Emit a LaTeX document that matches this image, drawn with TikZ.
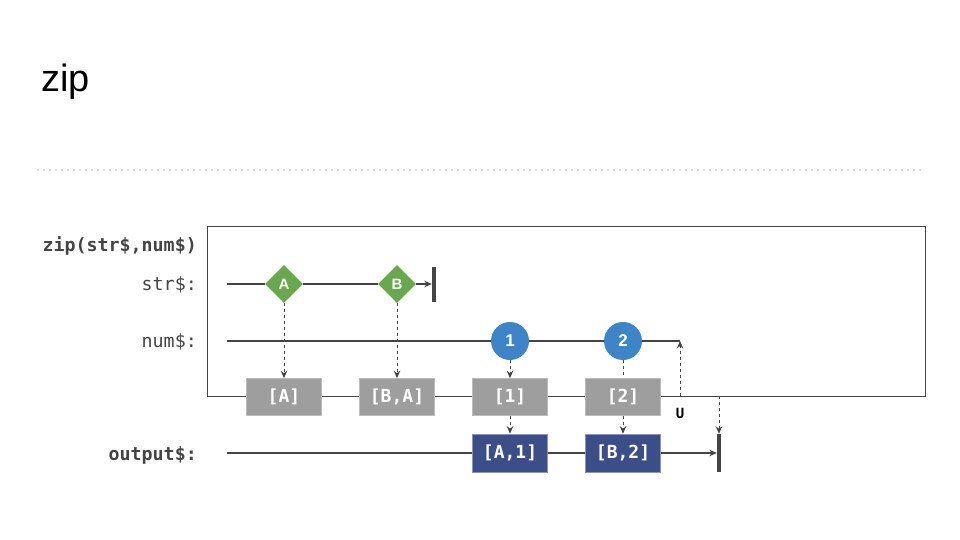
\documentclass[tikz,border=0pt]{standalone}
\usepackage{fontspec}
\setmainfont{Liberation Sans}
\setsansfont{Liberation Sans}
\setmonofont{DejaVu Sans Mono}
\usetikzlibrary{shapes.geometric,arrows.meta,backgrounds}
\definecolor{ink}{HTML}{444444}
\definecolor{grn}{HTML}{6AA84F}
\definecolor{blu}{HTML}{3D85C6}
\definecolor{gbox}{HTML}{9E9E9E}
\definecolor{dbox}{HTML}{3C4E88}
\definecolor{dotc}{HTML}{BBBBBB}
\tikzset{
  wire/.style={draw=ink, line width=1.1pt},
  arr/.style={-{Stealth[length=7.5pt,width=6.5pt]}},
  dsh/.style={draw=ink, line width=1pt, dash pattern=on 3pt off 3pt},
  dmd/.style={diamond, aspect=1, fill=grn, inner sep=0pt, minimum width=38pt, minimum height=38pt,
    text=white, font=\sffamily\bfseries\fontsize{15}{15}\selectfont},
  crc/.style={circle, fill=blu, inner sep=0pt, minimum size=38pt,
    text=white, font=\sffamily\bfseries\fontsize{17}{17}\selectfont},
  gbx/.style={rectangle, fill=gbox, draw=gbox!70!white, line width=0.6pt, minimum width=75pt, minimum height=37pt,
    inner sep=0pt, text=white, font=\ttfamily\bfseries\fontsize{18}{18}\selectfont},
  dbx/.style={rectangle, fill=dbox, draw=dbox!60!white, line width=0.6pt, minimum width=75pt, minimum height=38pt,
    inner sep=0pt, text=white, font=\ttfamily\bfseries\fontsize{18}{18}\selectfont},
  bar/.style={rectangle, fill=ink, inner sep=0pt, minimum width=4pt, minimum height=36pt},
  lbl/.style={anchor=east, text=ink, inner sep=0pt, font=\ttfamily\fontsize{18.3}{18.3}\selectfont},
  blbl/.style={anchor=east, text=ink, inner sep=0pt, font=\ttfamily\bfseries\fontsize{18.3}{18.3}\selectfont},
}
\begin{document}
\begin{tikzpicture}[x=1pt,y=-1pt]
\useasboundingbox (0,0) rectangle (960,540);
% title
\node[anchor=base west, inner sep=0pt, font=\fontsize{38}{38}\selectfont] (title) at (41,92) {zip};
% dotted separator
\coordinate (d0) at (38,170);
\coordinate (d1) at (920,170);
\draw[dotc, line width=1.6pt, line cap=round, dash pattern=on 0pt off 6pt] (d0) -- (d1);
% operator box
\node[draw=ink, line width=0.9pt, rectangle, inner sep=0pt, anchor=north west,
  minimum width=718pt, minimum height=170pt] (op) at (207,226) {};
% labels
\node[blbl] (zl) at (197,246) {zip(str\$,num\$)};
\node[lbl] (sl) at (197,285) {str\$:};
\node[lbl] (nl) at (197,342) {num\$:};
\node[blbl] (ol) at (197,455) {output\$:};
% coordinates
\coordinate (s0) at (227,284);
\coordinate (n0) at (227,341);
\coordinate (n1) at (680,341);
\coordinate (u0) at (680,396);
\coordinate (o0) at (227,453);
\coordinate (c0) at (719,396);
% str$ stream
\node[dmd] (a) at (284,284) {A};
\node[dmd] (b) at (397,284) {B};
\node[bar, minimum height=35pt] (se) at (434,284) {};
% num$ stream
\node[crc] (n1c) at (510,341) {1};
\node[crc] (n2c) at (623,341) {2};
% inner results
\node[gbx] (ga) at (284,397) {[A]};
\node[gbx] (gba) at (397,397) {[B,A]};
\node[gbx] (g1) at (510,397) {[1]};
\node[gbx] (g2) at (623,397) {[2]};
% output
\node[dbx] (oa) at (510,453) {[A,1]};
\node[dbx] (ob) at (623,453) {[B,2]};
\node[bar, minimum height=38pt] (oe) at (719,453) {};
\node[inner sep=0pt, text=black, font=\ttfamily\bfseries\fontsize{14}{14}\selectfont] (u) at (680,413) {U};
\begin{scope}[on background layer]
  \draw[wire] (s0) -- (a) -- (b);
  \draw[wire] (n0) -- (n1c) -- (n2c) -- (n1);
  \draw[wire] (o0) -- (oa) -- (ob);
\end{scope}
\draw[wire, arr] (b.east) -- (se.west);
\draw[wire, arr] (ob.east) -- (oe.west);
\draw[dsh, arr] (a.south) -- (ga.north);
\draw[dsh, arr] (b.south) -- (gba.north);
\draw[dsh, arr] (n1c.south) -- (g1.north);
\draw[dsh] (n2c.south) -- (g2.north);
\draw[dsh, arr] (g1.south) -- (oa.north);
\draw[dsh, arr] (g2.south) -- (ob.north);
\draw[dsh, arr] (u0) -- (n1);
\draw[dsh, arr] (c0) -- (oe.north);
\end{tikzpicture}
\end{document}
